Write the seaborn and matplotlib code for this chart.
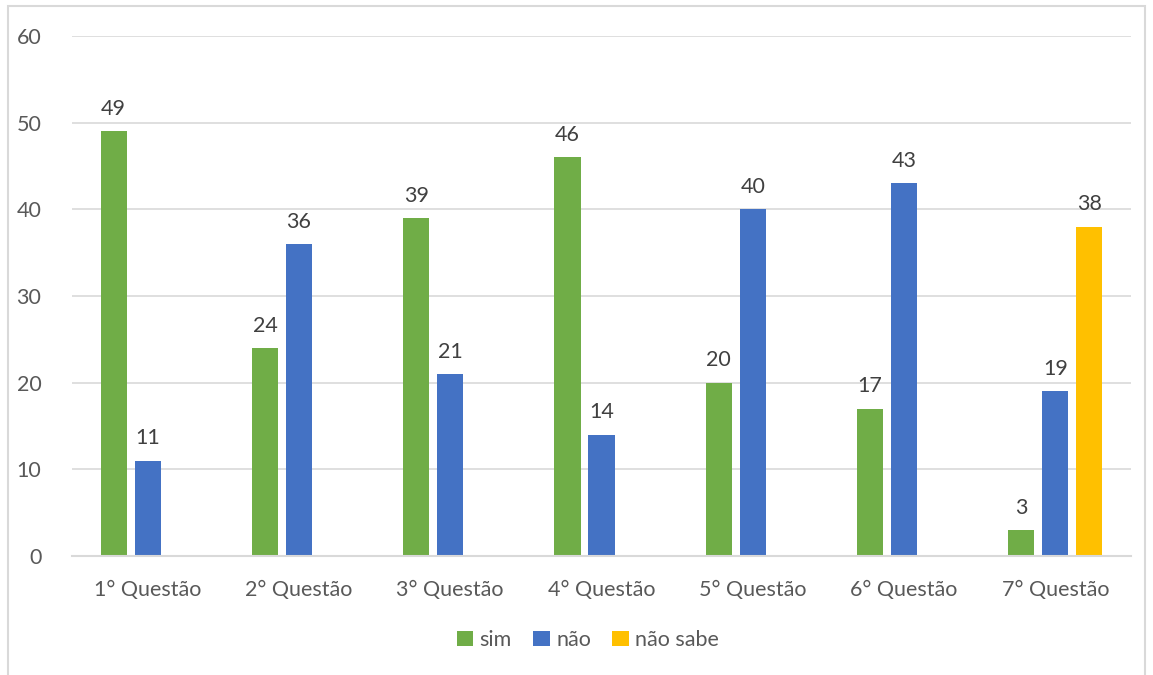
import matplotlib
matplotlib.use("Agg")
import matplotlib.pyplot as plt
import seaborn as sns
import pandas as pd
from matplotlib.patches import Rectangle, Patch

questions = ["1° Questão", "2° Questão", "3° Questão", "4° Questão",
             "5° Questão", "6° Questão", "7° Questão"]
sim = [49, 24, 39, 46, 20, 17, 3]
nao = [11, 36, 21, 14, 40, 43, 19]
nao_sabe = [None, None, None, None, None, None, 38]
series = ["sim", "não", "não sabe"]
colors = ["#70AD47", "#4472C4", "#FFC000"]
yticks = [0, 10, 20, 30, 40, 50, 60]

rows = []
for q, a, b, c in zip(questions, sim, nao, nao_sabe):
    for name, v in zip(series, (a, b, c)):
        if v is not None:
            rows.append({"q": q, "s": name, "v": v})
df = pd.DataFrame(rows)

sns.set_theme(style="white")
plt.rcParams['font.family'] = ['Lato', 'DejaVu Sans']
txt = "#595959"

fig = plt.figure(figsize=(11.53, 6.75), dpi=100)
ax = fig.add_axes([72/1153, 1-556/675, (1131-72)/1153, (556-36)/675])

sns.barplot(data=df, x="q", y="v", hue="s", order=questions, hue_order=series,
            palette=colors, width=0.674, gap=0.234, saturation=1, ax=ax,
            legend=False, errorbar=None, linewidth=0, edgecolor="none")

for cont in ax.containers:
    ax.bar_label(cont, fmt="%g", padding=9, fontsize=15.5, color="#404040")

ax.set_ylim(0, 60)
ax.set_xlim(-0.5, 6.5)
ax.set_yticks(yticks)
ax.yaxis.grid(True, color="#D9D9D9", linewidth=1.2)
ax.set_axisbelow(True)
for side in ["top", "right", "left"]:
    ax.spines[side].set_visible(False)
ax.spines["bottom"].set_color("#D9D9D9")
ax.spines["bottom"].set_linewidth(1.5)
ax.tick_params(axis="both", length=0, labelsize=15.5, labelcolor=txt)
ax.tick_params(axis="y", pad=22)
ax.tick_params(axis="x", pad=17)
ax.set_xlabel("")
ax.set_ylabel("")

handles = [Patch(facecolor=c, edgecolor="none") for c in colors]
fig.legend(handles, series, loc="center", bbox_to_anchor=(588/1153, 1-640/675),
           ncol=3, frameon=False, fontsize=15.5, labelcolor=txt,
           handlelength=0.75, handleheight=0.75, handletextpad=0.3, columnspacing=1.0)

fig.patches.append(Rectangle((8/1153, -0.05), (1145-8)/1153, 1.05 - 6/675,
                             transform=fig.transFigure, fill=False,
                             edgecolor="#D9D9D9", linewidth=1.5))

fig.savefig("out.png", dpi=100)
